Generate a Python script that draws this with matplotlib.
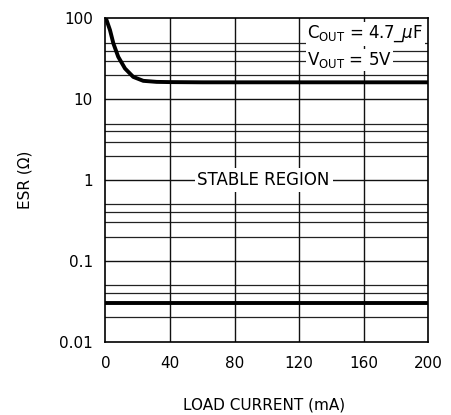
import matplotlib
matplotlib.use("Agg")
import matplotlib.pyplot as plt
import numpy as np

# Data
load_current = [0, 0.8, 2.9, 5.0, 8.0, 12.2, 17.3, 23.5, 31.8, 40, 60, 100, 150, 200]
esr_upper = [100, 95, 71.7, 49, 33.5, 24, 18.9, 16.9, 16.4, 16.3, 16.2, 16.2, 16.2, 16.2]
lower_x = [0, 200]
lower_esr = [0.03, 0.03]
x_ticks = [0, 40, 80, 120, 160, 200]
y_ticks = [0.01, 0.1, 1, 10, 100]
y_tick_labels = ["0.01", "0.1", "1", "10", "100"]
grid_minor = [m * 10.0 ** e for e in range(-2, 2) for m in (2, 3, 4, 5)]

plt.rcParams['font.family'] = ['DejaVu Sans']
fig = plt.figure(figsize=(4.52, 4.15), dpi=100)
ax = fig.add_axes([0.233, 0.1766, 0.7146, 0.779])

ax.set_yscale('log')
ax.set_xlim(0, 200)
ax.set_ylim(0.01, 100)

# grid lines
for v in grid_minor:
    ax.axhline(v, color='#222222', lw=0.9, zorder=1)
for v in y_ticks[1:-1]:
    ax.axhline(v, color='#111111', lw=1.0, zorder=1)
for v in x_ticks[1:-1]:
    ax.axvline(v, color='#111111', lw=1.0, zorder=1)

# curves
ax.plot(load_current, esr_upper, color='black', lw=2.8, zorder=3,
        solid_capstyle='butt', solid_joinstyle='round')
ax.plot(lower_x, lower_esr, color='black', lw=2.8, zorder=3, solid_capstyle='butt')

ax.set_xticks(x_ticks)
ax.set_xticklabels([str(t) for t in x_ticks])
ax.set_yticks(y_ticks)
ax.set_yticklabels(y_tick_labels)
ax.yaxis.set_minor_locator(matplotlib.ticker.NullLocator())
ax.tick_params(axis='both', length=0, labelsize=11, colors='black')
ax.tick_params(axis='x', pad=10)
ax.tick_params(axis='y', pad=9)

for s in ax.spines.values():
    s.set_linewidth(1.2)
    s.set_color('black')

ax.text(98, 1, "STABLE REGION", ha='center', va='center', fontsize=12,
        zorder=4, bbox=dict(facecolor='white', edgecolor='none', pad=2))
ax.text(125, 64, r"C$_{\mathregular{OUT}}$ = 4.7_$\mu$F", ha='left', va='center', fontsize=12,
        zorder=4, bbox=dict(facecolor='white', edgecolor='none', pad=1))
ax.text(125, 30.5, r"V$_{\mathregular{OUT}}$ = 5V", ha='left', va='center', fontsize=12,
        zorder=4, bbox=dict(facecolor='white', edgecolor='none', pad=1))

ax.set_xlabel("LOAD CURRENT (mA)", fontsize=11)
ax.set_ylabel("ESR (Ω)", fontsize=11)
ax.xaxis.set_label_coords(0.49, -0.196)
ax.yaxis.set_label_coords(-0.249, 0.5)
ax.xaxis.label.set_va('center')
ax.yaxis.label.set_va('center')

fig.savefig("out.png", dpi=100)
